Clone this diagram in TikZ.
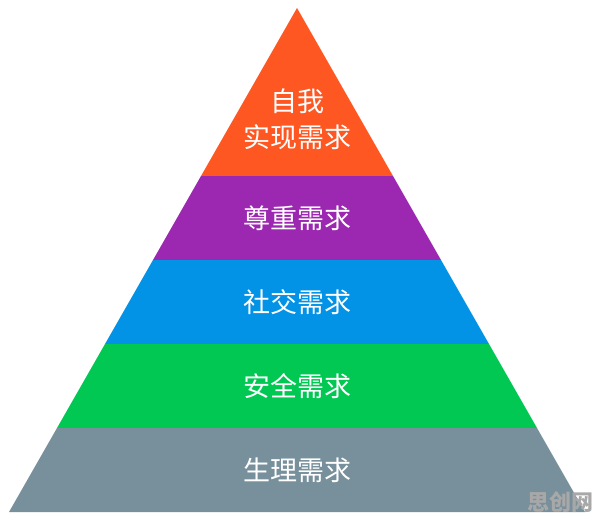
\documentclass[tikz,border=0pt]{standalone}
\usepackage{fontspec}
\setmainfont{Noto Sans CJK SC}
\definecolor{cOrange}{HTML}{FF5722}
\definecolor{cPurple}{HTML}{9C27B0}
\definecolor{cBlue}{HTML}{0393E6}
\definecolor{cGreen}{HTML}{00C853}
\definecolor{cGray}{HTML}{78909C}
\definecolor{cMark}{HTML}{A8A8A8}
\begin{document}
\begin{tikzpicture}[x=1pt,y=-1pt,
  lbl/.style={text=white,font=\fontsize{27}{36}\selectfont,align=center,inner sep=0pt},
  wmark/.style={text=cMark,font=\fontsize{22}{22}\selectfont\bfseries,inner sep=0pt}]
\useasboundingbox (0,0) rectangle (596,520);
\fill[white] (0,0) rectangle (596,520);
\fill[cOrange] (297,8) -- (393,176) -- (201,176) -- cycle;
\fill[cPurple] (201,176) -- (393,176) -- (441,260) -- (153,260) -- cycle;
\fill[cBlue] (153,260) -- (441,260) -- (489,344) -- (105,344) -- cycle;
\fill[cGreen] (105,344) -- (489,344) -- (537,428) -- (57,428) -- cycle;
\fill[cGray] (57,428) -- (537,428) -- (585,512) -- (9,512) -- cycle;
\node[lbl] (l5) at (297,119) {自我\\实现需求};
\node[lbl] (l4) at (297,218) {尊重需求};
\node[lbl] (l3) at (297,302) {社交需求};
\node[lbl] (l2) at (297,386) {安全需求};
\node[lbl] (l1) at (297,470) {生理需求};
\node[wmark] (wm) at (560,502) {思创网};
\end{tikzpicture}
\end{document}
